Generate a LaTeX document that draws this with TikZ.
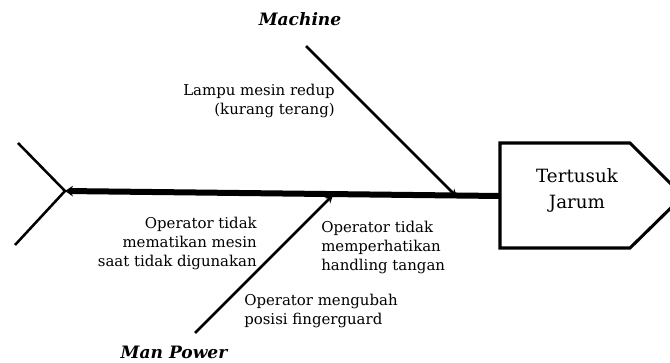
\documentclass[tikz,border=0pt]{standalone}
\usepackage{fontspec}
\setmainfont{DejaVu Serif}
\usetikzlibrary{arrows.meta}
\tikzset{
  bone/.style={line width=1.9pt, -{Stealth[length=6pt,width=6pt]}},
  spine/.style={line width=4.5pt, -{Stealth[length=6pt,width=8pt]}},
  tailline/.style={line width=1.9pt},
  headbox/.style={line width=2.3pt, line join=miter},
  cause/.style={inner sep=0pt, font=\fontsize{11.2}{14.25}\selectfont},
  category/.style={inner sep=0pt, font=\fontsize{12.8}{14}\selectfont\bfseries\itshape},
  effect/.style={inner sep=0pt, align=center, font=\fontsize{13.7}{19.5}\selectfont}
}
\begin{document}
\begin{tikzpicture}[x=0.75pt,y=-0.75pt]
\useasboundingbox (0,0) rectangle (670,363);
% head
\draw[headbox] (500,143) -- (630,143) -- (683,196) -- (630,248) -- (500,248) -- cycle;
\node[effect] (effect) at (577,190) {Tertusuk\\Jarum};
\coordinate (headw) at (500,196);
\coordinate (tail) at (65,191);
% spine
\draw[spine] (headw) -- (tail);
% tail
\coordinate (t1) at (18,143);
\coordinate (t2) at (15,245);
\draw[tailline] (t1) -- (tail) -- (t2);
% bones
\coordinate (m0) at (306,46);
\coordinate (m1) at (457,197);
\draw[bone] (m0) -- (m1);
\coordinate (p0) at (195,333);
\coordinate (p1) at (333,195);
\draw[bone] (p0) -- (p1);
% labels
\node[category] (machine) at (300,19) {Machine};
\node[category] (manpower) at (174,352) {Man Power};
\node[cause, align=right, anchor=east] (c1) at (335,101) {Lampu mesin redup\\(kurang terang)};
\node[cause, align=right, anchor=east] (c2) at (257,243) {Operator tidak\\mematikan mesin\\saat tidak digunakan};
\node[cause, align=left, anchor=west] (c3) at (321,247) {Operator tidak\\memperhatikan\\handling tangan};
\node[cause, align=left, anchor=west] (c4) at (244,311) {Operator mengubah\\posisi fingerguard};
\end{tikzpicture}
\end{document}
